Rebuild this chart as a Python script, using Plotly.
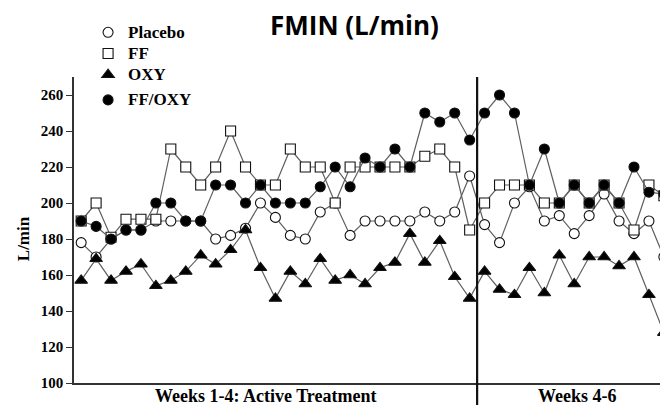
import plotly.graph_objects as go

# ---- data ----
visits = list(range(1, 41))
placebo = [178, 170, 180, 185, 185, 190, 190, 190, 190, 180, 182, 186, 200, 192, 182, 180, 195, 200, 182, 190,
           190, 190, 190, 195, 190, 195, 215, 188, 178, 200, 209, 190, 193, 183, 193, 205, 190, 183, 190, 170]
ff = [190, 200, 181, 191, 191, 191, 230, 220, 210, 220, 240, 220, 210, 210, 230, 220, 220, 200, 220, 220,
      220, 220, 220, 226, 230, 220, 185, 200, 210, 210, 210, 200, 200, 210, 200, 210, 200, 185, 210, 204]
oxy = [157, 169, 157, 162, 166, 154, 157, 162, 171, 166, 174, 185, 164, 147, 162, 155, 169, 157, 160, 155,
       164, 167, 183, 167, 179, 159, 147, 162, 152, 149, 164, 150, 171, 155, 170, 170, 165, 170, 149, 128]
ff_oxy = [190, 187, 180, 185, 185, 200, 200, 190, 190, 210, 210, 200, 210, 200, 200, 200, 209, 220, 209, 225,
          220, 230, 220, 250, 245, 250, 235, 250, 260, 250, 210, 230, 200, 210, 200, 210, 200, 220, 206, 205]

series_names = ["Placebo", "FF", "OXY", "FF/OXY"]
y_ticks = [100, 120, 140, 160, 180, 200, 220, 240, 260]
phase_labels = ["Weeks 1-4: Active Treatment", "Weeks 4-6"]
phase_break = 27.5
title_text = "FMIN (L/min)"
y_title = "L/min"

# ---- styles ----
SERIF = "Liberation Serif, Times New Roman, serif"
LINE_COLOR = "#5f5f5f"
MK_LINE = "#111111"
styles = {
    "Placebo": dict(symbol="circle", size=10, color="white"),
    "FF": dict(symbol="square", size=10, color="white"),
    "OXY": dict(symbol="triangle-up", size=11, color="black"),
    "FF/OXY": dict(symbol="circle", size=10, color="black"),
}
values = {"Placebo": placebo, "FF": ff, "OXY": oxy, "FF/OXY": ff_oxy}

fig = go.Figure()
for name in series_names:
    st = styles[name]
    fig.add_trace(go.Scatter(
        x=visits, y=values[name], mode="lines+markers", showlegend=False,
        line=dict(color=LINE_COLOR, width=1.2),
        marker=dict(symbol=st["symbol"], size=st["size"], color=st["color"],
                    line=dict(color=MK_LINE, width=1.1)),
    ))

# legend-only marker traces
for name in series_names:
    st = styles[name]
    fig.add_trace(go.Scatter(
        x=[None], y=[None], mode="markers",
        name=f'<span style="font-size:17px"><b>{name}</b></span>',
        legendgroup="g2" if name == "FF/OXY" else "g1",
        marker=dict(symbol=st["symbol"], size=st["size"], color=st["color"],
                    line=dict(color=MK_LINE, width=1.1)),
    ))

fig.add_shape(type="line", xref="x", yref="paper", x0=phase_break, x1=phase_break,
              y0=-0.075, y1=1, line=dict(color="#111111", width=2.2))

fig.add_annotation(text=f"<b>{title_text}</b>", xref="paper", yref="paper", x=0.4795, y=1.17,
                   xanchor="center", yanchor="middle", showarrow=False,
                   font=dict(family="Open Sans", size=26, color="black"))
fig.add_annotation(text=f"<b>{y_title}</b>", xref="paper", yref="paper", x=-0.087, y=0.47,
                   xanchor="center", yanchor="middle", showarrow=False, textangle=-90,
                   font=dict(family=SERIF, size=17, color="black"))
for lbl, xp in zip(phase_labels, [0.3276, 0.860]):
    fig.add_annotation(text=f"<b>{lbl}</b>", xref="paper", yref="paper", x=xp, y=-0.041,
                       xanchor="center", yanchor="middle", showarrow=False,
                       font=dict(family=SERIF, size=18, color="black"))

fig.update_layout(
    width=660, height=405,
    margin=dict(l=74, r=0, t=77, b=22, pad=0, autoexpand=False),
    paper_bgcolor="white", plot_bgcolor="white",
    showlegend=True,
    legend=dict(x=0.024, y=1.197, xanchor="left", yanchor="top",
                traceorder="grouped", tracegroupgap=4,
                font=dict(family=SERIF, size=14, color="black", weight="bold"),
                bgcolor="rgba(0,0,0,0)", itemwidth=30),
    xaxis=dict(range=[0.52, 39.74], showline=True, linecolor="#333333", linewidth=1.5,
               showgrid=False, zeroline=False, showticklabels=False, ticks=""),
    yaxis=dict(range=[100, 270], showline=True, linecolor="#333333", linewidth=1.5,
               showgrid=False, zeroline=False, tickvals=y_ticks, ticks="outside",
               ticklen=6, tickcolor="#333333", tickwidth=1.3,
               tickfont=dict(family=SERIF, size=15, color="black", weight="bold")),
)

fig.write_html("out.html", config={"displayModeBar": False},
               post_script="document.body.style.margin='0';document.body.style.padding='0';")
